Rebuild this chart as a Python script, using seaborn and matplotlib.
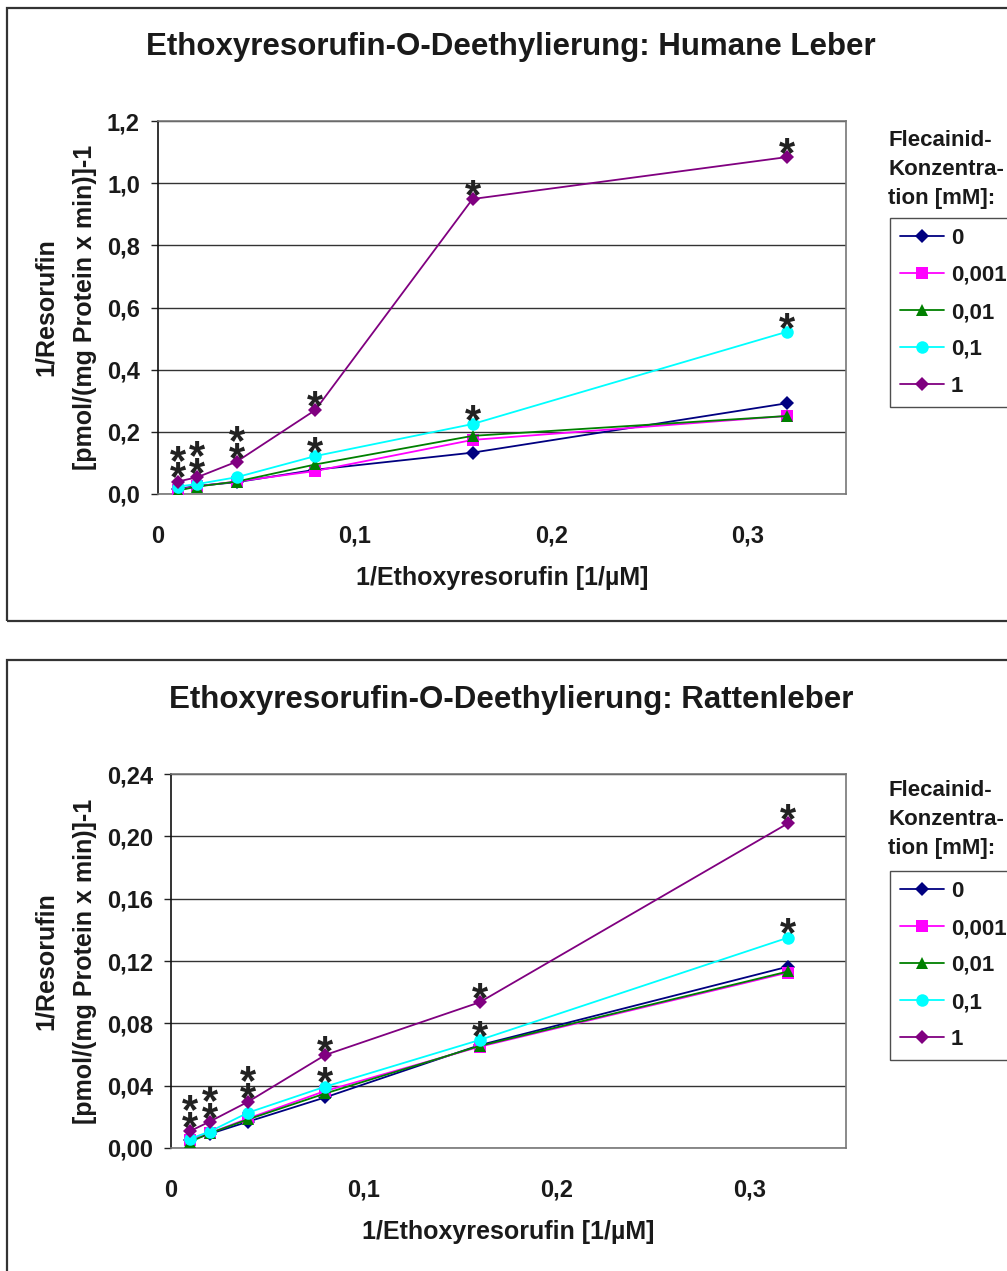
import numpy as np
import pandas as pd
import matplotlib
matplotlib.use("Agg")
import matplotlib.pyplot as plt
import seaborn as sns
from matplotlib.patches import Rectangle
from matplotlib.lines import Line2D

# ---------------- data ----------------
x_conc = [0.01, 0.02, 0.04, 0.08, 0.16, 0.32]
series_labels = ["0", "0,001", "0,01", "0,1", "1"]

human_0 = [0.016, 0.026, 0.038, 0.078, 0.133, 0.292]
human_0001 = [0.013, 0.025, 0.040, 0.074, 0.174, 0.251]
human_001 = [0.011, 0.024, 0.040, 0.095, 0.187, 0.251]
human_01 = [0.024, 0.032, 0.054, 0.122, 0.225, 0.522]
human_1 = [0.040, 0.054, 0.104, 0.270, 0.949, 1.084]

rat_0 = [0.005, 0.009, 0.0169, 0.0325, 0.066, 0.1164]
rat_0001 = [0.005, 0.0095, 0.019, 0.0366, 0.065, 0.1126]
rat_001 = [0.004, 0.0094, 0.0184, 0.035, 0.0655, 0.1133]
rat_01 = [0.006, 0.0105, 0.0227, 0.0394, 0.0693, 0.135]
rat_1 = [0.0109, 0.0169, 0.0297, 0.0597, 0.0935, 0.2084]

stars_1 = [2, 2, 2, 1, 1, 1]    # significance stars for 1 mM
stars_01 = [0, 0, 0, 1, 1, 1]   # significance stars for 0.1 mM

human_yticks = [0.0, 0.2, 0.4, 0.6, 0.8, 1.0, 1.2]
human_yticklabels = ["0,0", "0,2", "0,4", "0,6", "0,8", "1,0", "1,2"]
rat_yticks = [0.0, 0.04, 0.08, 0.12, 0.16, 0.20, 0.24]
rat_yticklabels = ["0,00", "0,04", "0,08", "0,12", "0,16", "0,20", "0,24"]
xticks = [0.0, 0.1, 0.2, 0.3]
xticklabels = ["0", "0,1", "0,2", "0,3"]

title_human = "Ethoxyresorufin-O-Deethylierung: Humane Leber"
title_rat = "Ethoxyresorufin-O-Deethylierung: Rattenleber"
xlabel = "1/Ethoxyresorufin [1/µM]"
ylabel = "1/Resorufin\n[pmol/(mg Protein x min)]-1"
legend_title = "Flecainid-\nKonzentra-\ntion [mM]:"

# ---------------- style ----------------
colors = ["#000080", "#FF00FF", "#008000", "#00FFFF", "#800080"]
markers = ["D", "s", "^", "o", "D"]
msizes = [7.0, 8.0, 8.5, 9.0, 7.0]

sns.set_theme(style="white")
plt.rcParams["font.family"] = ["Liberation Sans", "DejaVu Sans"]
plt.rcParams["font.weight"] = "bold"

W, H = 1007, 1271
fig = plt.figure(figsize=(W / 100, H / 100), dpi=100)
fig.patch.set_facecolor("white")


def fx(px):
    return px / W


def fy(py):
    return 1 - py / H


def add_stars(ax, xs, ys, counts):
    for xi, yi, n in zip(xs, ys, counts):
        if n == 0:
            continue
        ax.annotate("\n".join(["*"] * n), (xi, yi), xytext=(0, -12.9),
                    textcoords="offset points", ha="center", va="bottom",
                    fontsize=30, fontweight="bold", linespacing=0.25,
                    color="#222222", zorder=10)


def panel(ax_box, series, yticks, yticklabels, ymax, title, title_y,
          frame_box, legend_top, legend_title_y):
    l, r, t, b = ax_box
    ax = fig.add_axes([fx(l), fy(b), fx(r) - fx(l), fy(t) - fy(b)])
    df = pd.DataFrame({"x": x_conc})
    for i, (lab, vals) in enumerate(zip(series_labels, series)):
        df["y"] = vals
        sns.lineplot(data=df, x="x", y="y", ax=ax, color=colors[i],
                     marker=markers[i], markersize=msizes[i],
                     markeredgewidth=0, linewidth=1.3, legend=False,
                     label=lab, zorder=3 + i)
    add_stars(ax, x_conc, series[4], stars_1)
    add_stars(ax, x_conc, series[3], stars_01)

    ax.set_xlim(0, 0.35)
    ax.set_ylim(0, ymax)
    ax.set_xticks(xticks)
    ax.set_xticklabels(xticklabels)
    ax.set_xticks([0.0], minor=True)
    ax.set_yticks(yticks)
    ax.set_yticklabels(yticklabels)
    ax.tick_params(axis="y", which="major", direction="out", length=5,
                   width=1, color="#222222", pad=8, labelsize=17,
                   left=True)
    ax.tick_params(axis="x", which="major", length=0, pad=22, labelsize=17)
    ax.tick_params(axis="x", which="minor", direction="out", length=8,
                   width=1.2, color="#111111", bottom=True)
    for lbl in ax.get_xticklabels() + ax.get_yticklabels():
        lbl.set_fontweight("bold")
        lbl.set_color("#1a1a1a")
    ax.yaxis.grid(True, color="#333333", linewidth=1.0)
    ax.xaxis.grid(False)
    ax.set_axisbelow(True)
    for s in ["top", "right", "bottom"]:
        ax.spines[s].set_color("#777777")
        ax.spines[s].set_linewidth(1.2)
    ax.spines["left"].set_color("#111111")
    ax.spines["left"].set_linewidth(1.2)
    ax.set_xlabel(xlabel, fontsize=18, fontweight="bold", labelpad=13,
                  color="#1a1a1a")
    ax.set_ylabel(ylabel, fontsize=18, fontweight="bold", labelpad=7,
                  color="#1a1a1a", linespacing=1.8)

    fig.text(fx(511), fy(title_y), title, ha="center", va="center",
             fontsize=22.5, fontweight="bold", color="#1a1a1a")

    # outer chart frame
    fl, ft, fr, fb = frame_box
    fig.add_artist(Rectangle((fx(fl), fy(fb)), fx(fr) - fx(fl),
                             fy(ft) - fy(fb), transform=fig.transFigure,
                             fill=False, edgecolor="#333333", linewidth=1.6,
                             clip_on=False))

    # legend
    fig.text(fx(888), fy(legend_title_y), legend_title, ha="left", va="top",
             fontsize=16, fontweight="bold", color="#1a1a1a",
             linespacing=1.5)
    handles = [Line2D([], [], color=colors[i], marker=markers[i],
                      markersize=msizes[i], markeredgewidth=0, linewidth=1.3)
               for i in range(5)]
    leg = fig.legend(handles, series_labels, loc="upper left",
                     bbox_to_anchor=(fx(890), fy(legend_top)),
                     frameon=True, fancybox=False, fontsize=16,
                     handlelength=2.0, handletextpad=0.3, labelspacing=0.72,
                     borderpad=0.45, borderaxespad=0)
    leg.get_frame().set_edgecolor("#222222")
    leg.get_frame().set_linewidth(1.0)
    for txt in leg.get_texts():
        txt.set_fontweight("bold")
        txt.set_color("#1a1a1a")
    return ax


panel((158, 846, 121, 494),
      [human_0, human_0001, human_001, human_01, human_1],
      human_yticks, human_yticklabels, 1.2, title_human, 47,
      (7, 8, 1015, 621), 218, 130)

panel((171, 846, 774, 1148),
      [rat_0, rat_0001, rat_001, rat_01, rat_1],
      rat_yticks, rat_yticklabels, 0.24, title_rat, 700,
      (7, 660, 1015, 1285), 871, 780)

fig.savefig("out.png", dpi=100, facecolor="white")
